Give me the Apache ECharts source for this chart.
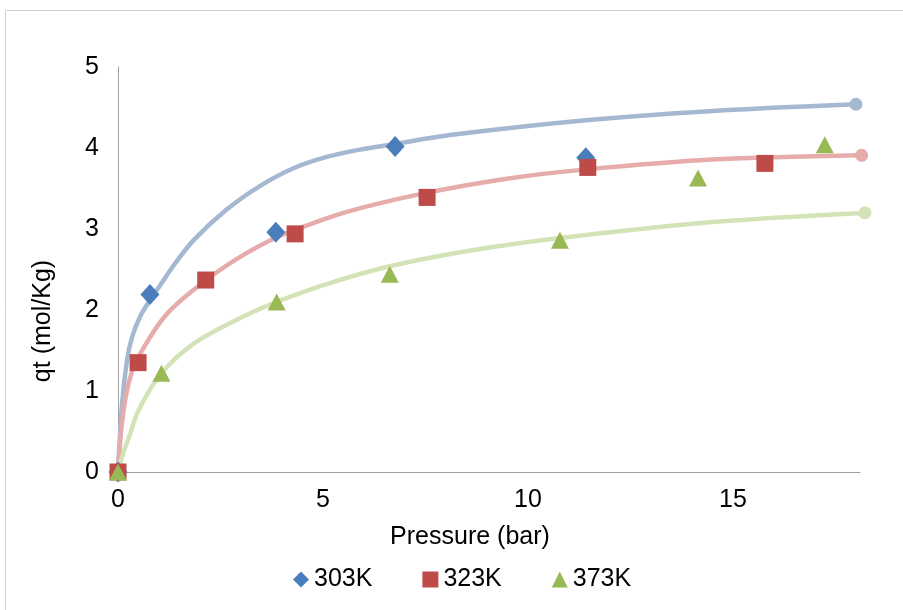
<!DOCTYPE html>
<html>
<head>
<meta charset="utf-8">
<title>qt vs Pressure</title>
<script src="https://cdn.jsdelivr.net/npm/echarts@6/dist/echarts.min.js"></script>
<style>
  html, body { margin: 0; padding: 0; background: #fff; }
  #chart { width: 903px; height: 610px; }
</style>
</head>
<body>
<div id="chart"></div>
<script>
// measured points [pressure (bar), qt (mol/Kg)]
var pts303 = [[0, 0], [0.78, 2.19], [3.85, 2.96], [6.76, 4.02], [11.41, 3.88]]
var pts323 = [[0, 0], [0.49, 1.35], [2.14, 2.37], [4.32, 2.94], [7.54, 3.39], [11.46, 3.76], [15.78, 3.81]]
var pts373 = [[0, 0], [1.06, 1.22], [3.87, 2.10], [6.63, 2.44], [10.78, 2.86], [14.15, 3.63], [17.24, 4.04]]

// fitted curves
var fit303 = [[0, 0], [0.1, 0.85], [0.22, 1.38], [0.34, 1.66], [0.54, 1.92], [0.79, 2.13], [1.02, 2.30], [1.4, 2.58],
  [1.84, 2.86], [2.65, 3.24], [3.46, 3.53], [4.28, 3.75], [5.09, 3.89], [5.9, 3.98], [6.76, 4.05], [8.1, 4.16],
  [11.35, 4.34], [14.6, 4.46], [18.0, 4.54]]
var fit323 = [[0, 0], [0.1, 0.62], [0.26, 1.10], [0.5, 1.42], [1.19, 1.95], [2.15, 2.37], [3.06, 2.68], [3.83, 2.89],
  [4.32, 2.99], [5.5, 3.20], [7.37, 3.43], [9.48, 3.62], [11.3, 3.73], [14.6, 3.86], [18.14, 3.91]]
var fit373 = [[0, 0], [0.12, 0.22], [0.26, 0.42], [0.5, 0.76], [1.06, 1.22], [1.89, 1.60], [2.98, 1.90], [3.87, 2.10],
  [5.09, 2.32], [6.63, 2.54], [8.67, 2.74], [10.78, 2.89], [14.6, 3.09], [18.22, 3.20]]

var seriesNames = ['303K', '323K', '373K']
var xTicks = [0, 5, 10, 15]
var yTicks = [0, 1, 2, 3, 4, 5]

var font = 'Liberation Sans, Arial, sans-serif'

// put a round cap on the last point of a fit line
function fitLine (name, pts, color) {
  var data = pts.map(function (p, i) {
    if (i === pts.length - 1) {
      return {value: p, symbol: 'circle', symbolSize: 13, itemStyle: {color: color}}
    }
    return {value: p}
  })
  return {
    name: name,
    type: 'line',
    symbol: 'none',
    smooth: 0.3,
    clip: false,
    silent: true,
    z: 1,
    lineStyle: {color: color, width: 4.5},
    data: data
  }
}

function dots (name, pts, symbol, size, color) {
  return {
    name: name,
    type: 'scatter',
    symbol: symbol,
    symbolSize: size,
    clip: false,
    z: 3,
    itemStyle: {color: color, opacity: 1},
    data: pts
  }
}

var chart = echarts.init(document.getElementById('chart'))
chart.setOption({
  animation: false,
  backgroundColor: '#fff',
  textStyle: {fontFamily: font},
  grid: {
    left: 118,
    right: 43,
    top: 67,
    bottom: 138,
    containLabel: false
  },
  legend: {
    left: 288,
    top: 562,
    itemWidth: 16,
    itemHeight: 16,
    itemGap: 50,
    selectedMode: false,
    textStyle: {fontSize: 25, color: '#000', fontFamily: font},
    data: seriesNames
  },
  xAxis: {
    type: 'value',
    min: xTicks[0],
    max: 18.1,
    interval: 5,
    name: 'Pressure (bar)',
    nameLocation: 'middle',
    nameGap: 53,
    nameTextStyle: {fontSize: 25, color: '#000', fontFamily: font, padding: [0, 38, 0, 0]},
    axisLine: {show: true, lineStyle: {color: '#a0a0a0', width: 1}},
    axisTick: {show: false},
    splitLine: {show: false},
    axisLabel: {
      fontSize: 25,
      color: '#000',
      margin: 16,
      showMaxLabel: false,
      formatter: function (v) { return xTicks.indexOf(v) >= 0 ? String(v) : '' }
    }
  },
  yAxis: {
    type: 'value',
    min: yTicks[0],
    max: yTicks[yTicks.length - 1],
    interval: 1,
    axisLine: {show: true, lineStyle: {color: '#a0a0a0', width: 1}},
    axisTick: {show: false},
    splitLine: {show: false},
    axisLabel: {fontSize: 25, color: '#000', margin: 19}
  },
  graphic: [
    {
      type: 'rect',
      silent: true,
      shape: {x: 5.5, y: 10.5, width: 1000, height: 1000},
      style: {fill: 'none', stroke: '#d0d0d0', lineWidth: 1}
    },
    {
      type: 'text',
      x: 43,
      y: 321,
      rotation: Math.PI / 2,
      style: {
        text: 'qt (mol/Kg)',
        fontSize: 25,
        fontFamily: font,
        fill: '#000',
        align: 'center',
        verticalAlign: 'middle'
      }
    }
  ],
  series: [
    fitLine('303K fit', fit303, '#a5b8d2'),
    fitLine('323K fit', fit323, '#e6abab'),
    fitLine('373K fit', fit373, '#d4e3b7'),
    dots(seriesNames[0], pts303, 'diamond', [19, 21], '#4a7ebb'),
    dots(seriesNames[1], pts323, 'rect', [17, 17], '#be4b48'),
    dots(seriesNames[2], pts373, 'triangle', [18, 17], '#98b954')
  ]
})
</script>
</body>
</html>
